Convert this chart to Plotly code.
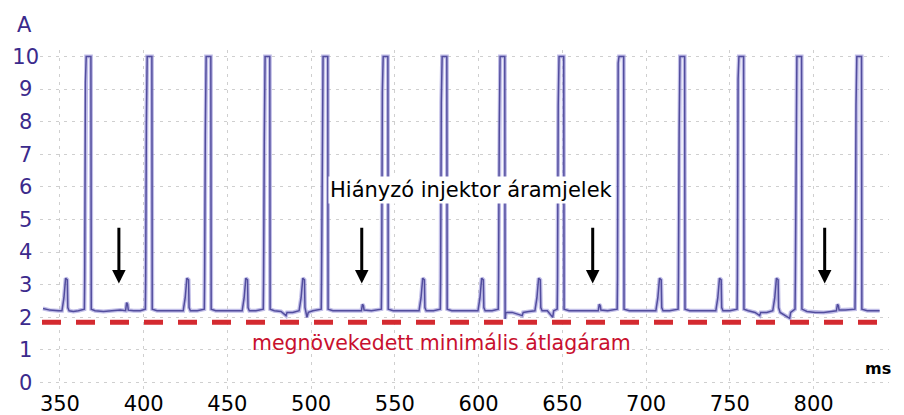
import plotly.graph_objects as go

# ---------------- data ----------------
trace_t = [
    339.9, 344.0, 349.0, 351.2, 352.4, 353.4, 354.4, 354.7, 355.5, 358.0, 361.0,
    364.6, 364.8, 365.2, 365.7, 368.5, 368.7, 371.0, 376.0, 381.0, 386.0, 389.2, 389.8, 390.4, 390.8, 394.0, 398.0,
    401.0, 401.2, 401.6, 402.1, 404.9, 405.1, 408.0, 413.0, 418.0, 423.6, 424.8, 425.8, 426.8, 427.1, 427.9, 432.0,
    436.2, 436.4, 436.8, 437.3, 440.1, 440.3, 443.0, 448.0, 453.0, 458.8, 460.0, 461.0, 462.0, 462.3, 463.1, 467.0,
    471.4, 471.6, 472.0, 472.5, 475.3, 475.5, 478.0, 482.0, 485.0, 485.6, 489.0, 492.8, 494.0, 495.0, 496.0, 496.3, 497.5, 498.3, 501.0,
    506.0, 506.2, 506.6, 507.1, 509.9, 510.1, 513.0, 518.0, 523.0, 528.0, 530.0, 530.6, 531.2, 531.6, 536.0,
    541.9, 542.1, 542.5, 543.0, 545.8, 546.0, 549.0, 554.0, 559.0, 564.4, 565.6, 566.6, 567.6, 567.9, 568.7, 573.0,
    577.1, 577.3, 577.7, 578.2, 581.0, 581.2, 584.0, 589.0, 594.0, 599.6, 600.8, 601.8, 602.8, 603.1, 603.9, 608.0,
    611.7, 611.9, 612.3, 612.8, 615.6, 615.8, 616.3, 620.0, 626.0, 626.6, 630.0, 633.6, 634.8, 635.8, 636.8, 637.1, 637.9, 641.0, 644.2, 644.8,
    646.9, 647.1, 647.5, 648.0, 650.8, 651.0, 654.0, 659.0, 664.0, 669.0, 671.4, 672.0, 672.6, 673.0, 677.0,
    682.7, 682.9, 683.3, 683.8, 686.6, 686.8, 690.0, 695.0, 700.0, 705.8, 707.0, 708.0, 709.0, 709.3, 710.1, 714.0,
    719.1, 719.3, 719.7, 720.2, 723.0, 723.2, 726.0, 731.0, 736.0, 741.6, 742.8, 743.8, 744.8, 745.1, 745.9, 750.0,
    754.3, 754.5, 754.9, 755.4, 758.2, 758.4, 761.0, 765.0, 767.8, 768.4, 772.0, 775.6, 776.8, 777.8, 778.8, 779.1, 780.0, 785.7, 786.3,
    788.9, 789.1, 789.5, 790.0, 792.8, 793.0, 796.0, 801.0, 806.0, 811.0, 813.6, 814.2, 814.8, 815.2, 819.0,
    824.7, 824.9, 825.3, 825.8, 828.6, 828.8, 832.0, 836.0, 839.4,
]
trace_a = [
    2.27, 2.22, 2.20, 2.20, 2.60, 3.20, 3.15, 2.30, 2.20, 2.18, 2.20,
    2.25, 3.20, 9.20, 10.0, 10.0, 2.25, 2.20, 2.18, 2.20, 2.22, 2.20, 2.45, 2.40, 2.22, 2.20, 2.20,
    2.25, 3.20, 7.90, 10.0, 10.0, 2.25, 2.20, 2.20, 2.18, 2.20, 2.60, 3.20, 3.15, 2.30, 2.20, 2.20,
    2.25, 3.20, 7.60, 10.0, 10.0, 2.25, 2.20, 2.20, 2.18, 2.20, 2.60, 3.20, 3.15, 2.30, 2.20, 2.20,
    2.25, 3.20, 7.40, 10.0, 10.0, 2.25, 2.20, 2.18, 2.05, 2.15, 2.15, 2.20, 2.60, 3.20, 3.15, 2.30, 2.00, 2.15, 2.20,
    2.25, 3.20, 6.80, 10.0, 10.0, 2.25, 2.20, 2.20, 2.20, 2.18, 2.20, 2.40, 2.35, 2.22, 2.20,
    2.25, 3.20, 8.90, 10.0, 10.0, 2.25, 2.20, 2.20, 2.18, 2.20, 2.60, 3.20, 3.15, 2.30, 2.20, 2.20,
    2.25, 3.20, 8.60, 10.0, 10.0, 2.25, 2.20, 2.20, 2.18, 2.20, 2.60, 3.20, 3.15, 2.30, 2.20, 2.20,
    2.25, 3.20, 7.70, 10.0, 10.0, 1.95, 2.15, 2.15, 2.05, 2.15, 2.18, 2.20, 2.60, 3.20, 3.15, 2.30, 2.20, 2.20, 2.00, 2.20,
    2.25, 3.20, 8.50, 10.0, 10.0, 2.25, 2.20, 2.20, 2.18, 2.20, 2.20, 2.40, 2.35, 2.22, 2.20,
    2.25, 3.20, 9.80, 10.0, 10.0, 2.25, 2.20, 2.20, 2.18, 2.20, 2.60, 3.20, 3.15, 2.30, 2.20, 2.20,
    2.25, 3.20, 7.70, 10.0, 10.0, 2.25, 2.20, 2.20, 2.18, 2.20, 2.60, 3.20, 3.15, 2.30, 2.20, 2.20,
    2.25, 3.20, 9.30, 10.0, 10.0, 2.25, 2.20, 2.15, 2.05, 2.15, 2.15, 2.20, 2.60, 3.20, 3.15, 2.30, 2.15, 1.97, 2.15,
    2.25, 3.20, 7.60, 10.0, 10.0, 2.25, 2.18, 2.15, 2.15, 2.17, 2.20, 2.40, 2.35, 2.22, 2.22,
    2.25, 3.20, 8.50, 10.0, 10.0, 2.25, 2.20, 2.20, 2.20,
]
assert len(trace_t) == len(trace_a)

min_avg_t = [339.3, 844.5]          # red dashed reference line
min_avg_a = [1.85, 1.85]

missing_t = [385.2, 530.2, 668.1, 806.6]   # arrows: missing injector pulses
arrow_tip_a = 3.04
arrow_tail_a = 4.79

x_ticks = [350, 400, 450, 500, 550, 600, 650, 700, 750, 800]
y_ticks = list(range(0, 11))
y_tick_labels = [str(v) if v >= 10 else str(v) + "\u2008" for v in y_ticks]

label_missing = "Hiányzó injektor áramjelek"
label_min = "megnövekedett minimális átlagáram"

FONT = "DejaVu Sans"
INDIGO = "#3b2a8c"
TRACE = "#524d9e"
RED = "#d42a30"

fig = go.Figure()

# soft halo under the trace (imitates the blurred scope trace)
fig.add_trace(go.Scatter(x=trace_t, y=trace_a, mode="lines",
                         line=dict(color="rgba(150,145,215,0.6)", width=4),
                         hoverinfo="skip", showlegend=False))
fig.add_trace(go.Scatter(x=trace_t, y=trace_a, mode="lines",
                         line=dict(color=TRACE, width=1.5),
                         showlegend=False))
fig.add_trace(go.Scatter(x=min_avg_t, y=min_avg_a, mode="lines",
                         line=dict(color=RED, width=5, dash="19px,15px"),
                         showlegend=False))

ann = []
for t in missing_t:
    ann.append(dict(x=t, y=arrow_tip_a, ax=t, ay=arrow_tail_a, xref="x", yref="y",
                    axref="x", ayref="y", text="", showarrow=True,
                    arrowhead=2, arrowsize=0.9, arrowwidth=3, arrowcolor="black"))
ann.append(dict(x=595.9, y=5.89, xref="x", yref="y", text=label_missing, showarrow=False,
                xanchor="center", yanchor="middle",
                font=dict(family=FONT, size=21, color="black"), bgcolor="white",
                borderpad=1))
ann.append(dict(x=578, y=1.2, xref="x", yref="y", text=label_min, showarrow=False,
                xanchor="center", yanchor="middle",
                font=dict(family=FONT, size=20.5, color="#c8102e")))
ann.append(dict(x=-0.0183, y=1.0737, xref="paper", yref="paper", text="A", showarrow=False,
                xanchor="center", yanchor="middle",
                font=dict(family=FONT, size=21, color=INDIGO)))
ann.append(dict(x=838.2, y=0.44, xref="x", yref="y", text="ms", showarrow=False,
                xanchor="center", yanchor="middle",
                font=dict(family=FONT, size=16, color="black", weight="bold")))

fig.update_layout(
    width=904, height=415,
    margin=dict(l=40, r=15, t=50, b=26, autoexpand=False),
    paper_bgcolor="white", plot_bgcolor="white",
    annotations=ann,
    xaxis=dict(range=[338.1, 845], tickvals=x_ticks, ticks="", automargin=False,
               tickfont=dict(family=FONT, size=21, color="black"),
               showgrid=True, gridcolor="#cfcfcf", griddash="3px,5px", gridwidth=1,
               zeroline=False, showline=False),
    yaxis=dict(range=[-0.2, 10.2], tickvals=y_ticks, ticktext=y_tick_labels, ticks="",
               automargin=False,
               tickfont=dict(family=FONT, size=21, color=INDIGO),
               showgrid=True, gridcolor="#cfcfcf", griddash="3px,5px", gridwidth=1,
               zeroline=False, showline=False),
)

fig.write_html("out.html")
